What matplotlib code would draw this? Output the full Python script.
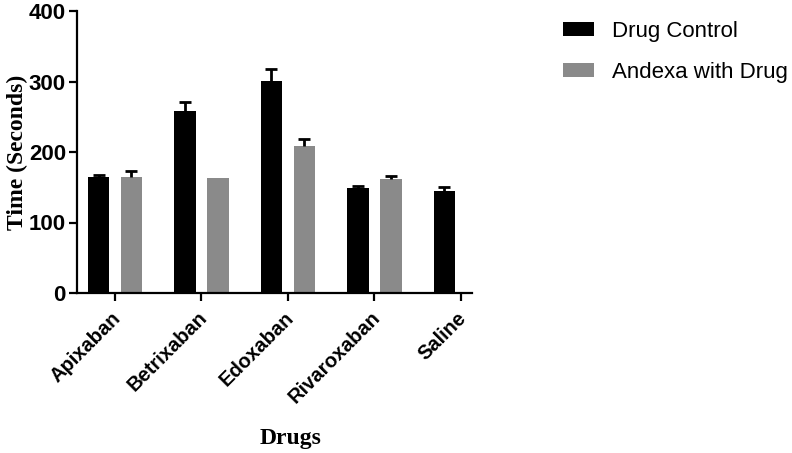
import numpy as np
import matplotlib
matplotlib.use('Agg')
import matplotlib.pyplot as plt
import matplotlib.transforms as mtransforms

drugs = ['Apixaban', 'Betrixaban', 'Edoxaban', 'Rivaroxaban', 'Saline']
control = [164, 258, 301, 149, 144]
control_err = [4, 13, 17, 3, 6]
andexa = [165, 163, 209, 162, np.nan]
andexa_err = [8, np.nan, 9, 4, np.nan]


def main():
    fig = plt.figure(figsize=(7.92, 4.53), dpi=100)
    ax = fig.add_axes([77 / 792, 1 - 293 / 453, 395 / 792, 282 / 453])

    x = np.arange(len(drugs))
    w = 0.25
    off = 0.19
    ekw = dict(ecolor='black', elinewidth=2, capthick=2)
    b1 = ax.bar(x - off, control, w, color='black', label='Drug Control',
                yerr=[np.zeros(len(control)), control_err], capsize=4, error_kw=ekw)
    b2 = ax.bar(x + off, andexa, w, color='#8a8a8a', label='Andexa with Drug',
                yerr=[np.zeros(len(andexa)), andexa_err], capsize=4, error_kw=ekw)
    # only the upper caps are shown
    for b in (b1, b2):
        caps = b.errorbar.lines[1]
        if len(caps) == 2:
            caps[0].set_visible(False)

    for s in ['top', 'right']:
        ax.spines[s].set_visible(False)
    for s in ['left', 'bottom']:
        ax.spines[s].set_linewidth(1.6)
    ax.tick_params(width=1.6, length=6, pad=2)
    ax.tick_params(axis='x', pad=5)

    ax.set_xlim(-0.44, 4.13)
    ax.set_ylim(0, 400)
    ax.set_yticks([0, 100, 200, 300, 400])
    ax.set_xticks(x)
    ax.set_xticklabels(drugs, rotation=45, ha='right', rotation_mode='anchor',
                       fontsize=14.5, fontweight='bold', family='Liberation Sans')
    shift = mtransforms.ScaledTranslation(-4 / 100, 0, fig.dpi_scale_trans)
    for lab in ax.get_xticklabels():
        lab.set_transform(lab.get_transform() + shift)
    for lab in ax.get_yticklabels():
        lab.set_fontsize(16)
        lab.set_fontweight('bold')
        lab.set_family('Liberation Sans')

    ax.set_ylabel('Time (Seconds)', fontsize=17, fontweight='bold', family='Liberation Serif')
    ax.yaxis.set_label_coords(-0.125, 0.5)
    ax.set_xlabel('Drugs', fontsize=17, fontweight='bold', family='Liberation Serif')
    ax.xaxis.set_label_coords(0.54, -0.48)

    fig.legend(loc='upper left', bbox_to_anchor=(0.686, 0.998), frameon=False,
               prop={'family': 'Liberation Sans', 'size': 16},
               handlelength=1.4, handleheight=0.55, labelspacing=0.9,
               handletextpad=0.8)

    fig.savefig('out.png', dpi=100)


if __name__ == '__main__':
    main()
